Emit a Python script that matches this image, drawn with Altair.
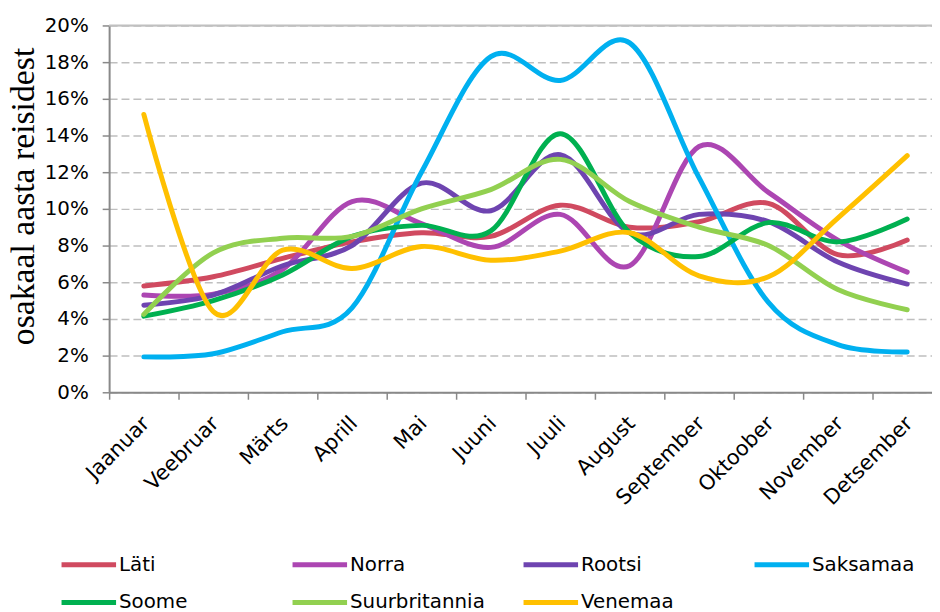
import altair as alt
import pandas as pd

months = ["Jaanuar", "Veebruar", "Märts", "Aprill", "Mai", "Juuni", "Juuli",
          "August", "September", "Oktoober", "November", "Detsember"]
series_names = ["Läti", "Norra", "Rootsi", "Saksamaa", "Soome", "Suurbritannia", "Venemaa"]
series_colors = ["#D04A60", "#AC46B2", "#6E44B0", "#00B0F0", "#00B050", "#92D050", "#FFC000"]

lati = [5.8, 6.3, 7.3, 8.2, 8.7, 8.5, 10.2, 9.0, 9.3, 10.3, 7.5, 8.3]
norra = [5.3, 5.35, 6.7, 10.4, 9.2, 7.9, 9.7, 6.9, 13.4, 10.9, 8.3, 6.55]
rootsi = [4.75, 5.3, 6.9, 8.0, 11.4, 9.9, 12.95, 8.7, 9.7, 9.3, 7.1, 5.9]
saksamaa = [1.93, 2.1, 3.3, 4.6, 12.0, 18.3, 17.0, 19.05, 11.7, 4.9, 2.6, 2.2]
soome = [4.15, 5.0, 6.4, 8.5, 9.1, 8.8, 14.1, 8.7, 7.4, 9.25, 8.2, 9.45]
suurbritannia = [4.25, 7.6, 8.4, 8.5, 10.0, 11.05, 12.7, 10.4, 9.0, 8.0, 5.6, 4.5]
venemaa = [15.15, 4.4, 7.75, 6.75, 7.95, 7.2, 7.7, 8.7, 6.35, 6.3, 9.5, 12.9]

y_ticks = [0, 2, 4, 6, 8, 10, 12, 14, 16, 18, 20]
y_top = [20]

rows = []
for name, vals in zip(series_names, [lati, norra, rootsi, saksamaa, soome, suurbritannia, venemaa]):
    for i, (m, v) in enumerate(zip(months, vals)):
        rows.append({"kuu": m, "mi": i, "riik": name, "osakaal": v})
df = pd.DataFrame(rows)

AXIS_GRAY = "#898989"

y_axis = alt.Axis(
    values=y_ticks, labelExpr="datum.value + '%'", labelOverlap=False,
    tickCount=11,
    title="osakaal aasta reisidest", titleFont="Liberation Serif",
    titleFontSize=34, titleFontWeight="normal", titleColor="#000000",
    titleX=-76, titleY=172, titleAngle=270, titleBaseline="alphabetic",
    titleAlign="center",
    labelFont="DejaVu Sans", labelFontSize=20, labelColor="#000000",
    labelPadding=14, tickSize=7, tickColor=AXIS_GRAY, tickWidth=1.5,
    domainColor=AXIS_GRAY, domainWidth=2,
    grid=True, gridColor="#BFBFBF", gridDash=[8, 4], gridWidth=1.5,
)
y_scale = alt.Scale(domain=[0, 20], nice=False)

lines = alt.Chart(df).mark_line(
    interpolate="cardinal", strokeWidth=5, strokeCap="round", strokeJoin="round"
).encode(
    x=alt.X(
        "kuu:N", sort=months, bandPosition=0.5,
        scale=alt.Scale(type="band", domain=months, range=[0, 840], paddingInner=0, paddingOuter=0),
        axis=alt.Axis(
            title=None, tickBand="extent", labelAngle=-45, labelAlign="right",
            labelBaseline="middle", labelFont="DejaVu Sans", labelFontSize=21,
            labelColor="#000000", labelPadding=21, labelOffset=2, tickSize=7,
            tickColor=AXIS_GRAY, tickWidth=1.5, domainColor=AXIS_GRAY, domainWidth=2,
            grid=False, labelOverlap=False,
        ),
    ),
    y=alt.Y("osakaal:Q", scale=y_scale, axis=y_axis),
    color=alt.Color(
        "riik:N", sort=series_names,
        scale=alt.Scale(domain=series_names, range=series_colors),
        legend=alt.Legend(
            title=None, orient="none", legendX=-48, legendY=534,
            direction="horizontal", columns=4, gridAlign="all",
            columnPadding=28, rowPadding=18,
            symbolType="M-2,0H9", symbolSize=100, symbolStrokeWidth=5,
            symbolOffset=0, labelOffset=38,
            labelFont="DejaVu Sans", labelFontSize=20, labelColor="#000000",
            labelLimit=300,
        ),
    ),
    order=alt.Order("mi:Q"),
)

top_rule = alt.Chart(pd.DataFrame({"osakaal": y_top})).mark_rule(
    color="#C0C0C0", strokeWidth=2
).encode(y=alt.Y("osakaal:Q", scale=y_scale, axis=y_axis))

chart = alt.layer(lines, top_rule).properties(
    width=830, height=370,
    autosize=alt.AutoSizeParams(type="none"),
    padding={"left": 102, "top": 15, "right": 0, "bottom": 219},
).configure_view(stroke=None).configure(background="white")

chart.save("out.html", embed_options={"renderer": "svg", "actions": False})
